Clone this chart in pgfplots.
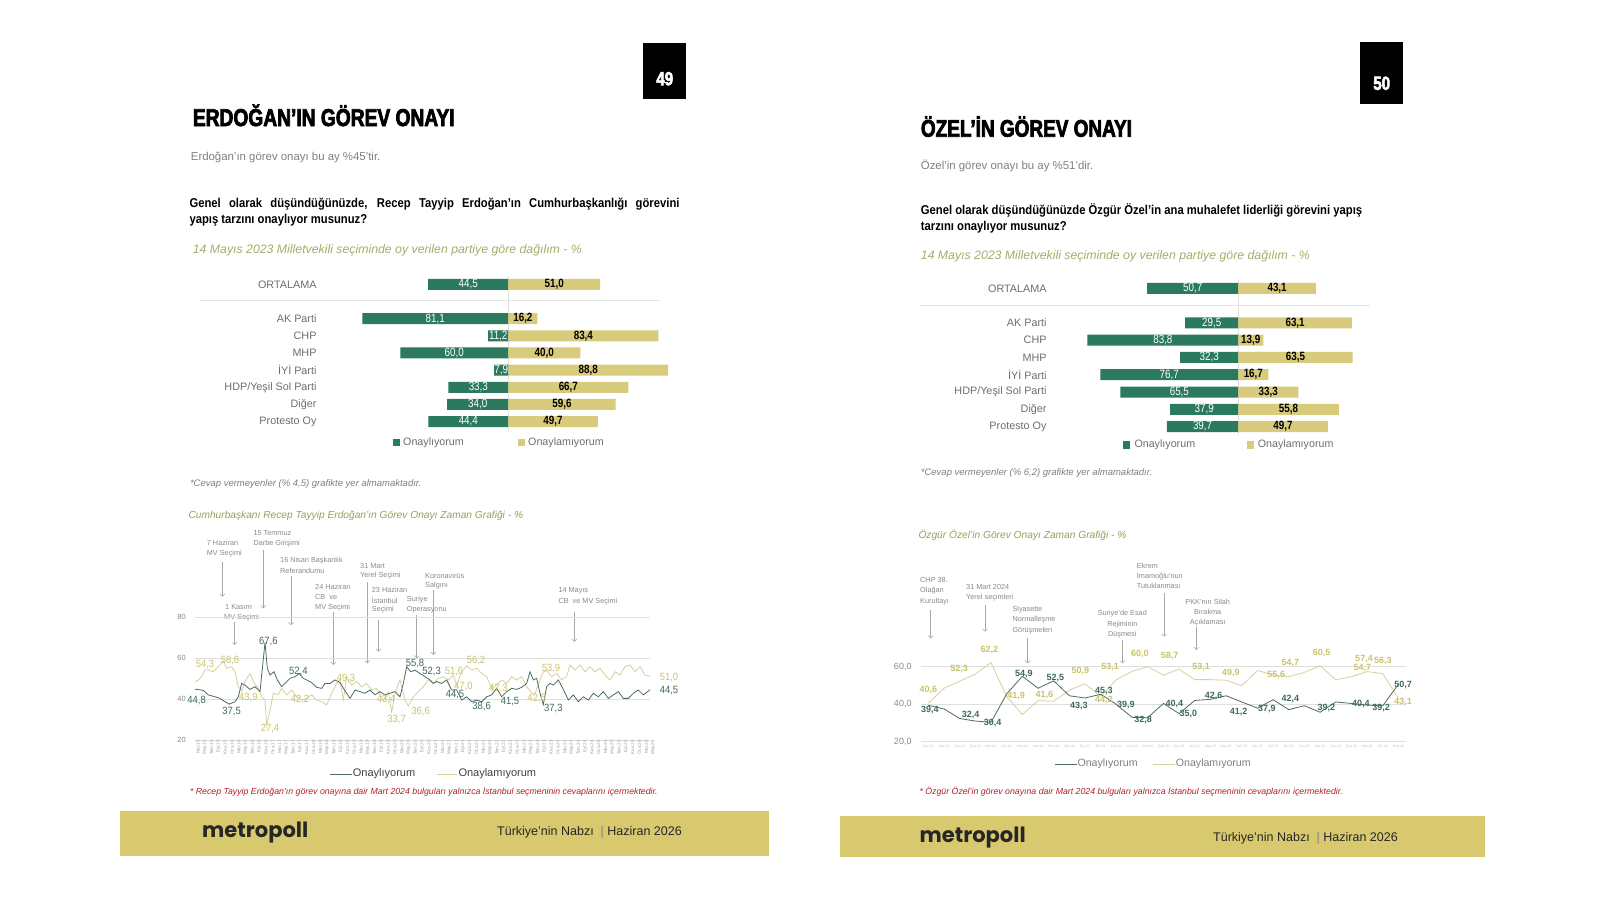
\documentclass[border=0pt]{standalone}
\usepackage{pgfplots}
\pgfplotsset{compat=1.18}
\usepackage{pgfplotstable}
\usepackage{fontspec}
\usetikzlibrary{arrows.meta}
\setmainfont{Liberation Sans}
\newfontfamily\titlefont[FakeStretch=0.79,FakeBold=3]{Liberation Sans}
\newfontfamily\condfont[FakeStretch=0.82]{Liberation Sans}
\newfontfamily\qfont[FakeStretch=0.88]{Liberation Sans}
\newfontfamily\labfont[FakeStretch=0.9]{Liberation Sans}
\newfontfamily\logofont{Poppins}
\newcommand{\fs}[1]{\fontsize{#1}{#1}\selectfont}

\definecolor{barG}{HTML}{2B7A5F}
\definecolor{barY}{HTML}{D8CB7B}
\definecolor{band}{HTML}{D8C96F}
\definecolor{olive}{HTML}{A5AD6B}
\definecolor{olive2}{HTML}{95A257}
\definecolor{lineG}{HTML}{4D6B63}
\definecolor{lineY}{HTML}{D6D19C}
\definecolor{labG}{HTML}{3E6A5D}
\definecolor{labY}{HTML}{C8C46A}
\definecolor{catgray}{HTML}{6E6E6E}
\definecolor{subgray}{HTML}{808080}
\definecolor{anncol}{HTML}{8A8A8A}
\definecolor{redn}{HTML}{B0202E}

\newcommand{\annL}[3]{\node[anchor=west,inner sep=0pt,font=\fs{7.3},text=anncol] at (#1,-#2) {#3};}
\newcommand{\annC}[3]{\node[anchor=center,inner sep=0pt,font=\fs{7.3},text=anncol] at (#1,-#2) {#3};}
\newcommand{\arr}[3]{\draw[draw=gray!70,line width=0.5pt,-{Straight Barb[length=2.5pt,width=5pt]}] (#1,-#2) -- (#1,-#3);}

\pgfplotstableread{
row ok no
0 44.5 51.0
2 81.1 16.2
3 11.2 83.4
4 60.0 40.0
5 7.9 88.8
6 33.3 66.7
7 34.0 59.6
8 44.4 49.7
}\erdbar

\pgfplotstableread{
row ok no
0 50.7 43.1
2 29.5 63.1
3 83.8 13.9
4 32.3 63.5
5 76.7 16.7
6 65.5 33.3
7 37.9 55.8
8 39.7 49.7
}\ozbar

\pgfplotstableread{
x v
75 44.8
90 44.5
100 44.2
115 42.0
135 41.1
150 40.3
165 38.7
178 37.5
195 38.7
205 41.1
215 47.6
225 46.8
240 44.7
255 46.0
270 43.6
285 67.6
292 55.0
300 51.7
312 53.3
322 49.3
335 46.0
345 47.6
360 50.1
375 50.9
388 52.4
400 50.1
410 49.3
425 48.0
440 45.7
455 45.2
465 47.6
480 47.6
495 49.3
510 48.0
525 44.0
540 40.3
555 44.4
570 43.6
585 42.8
600 44.4
615 42.0
630 43.6
645 42.0
660 42.8
675 43.6
690 41.1
700 47.6
710 55.8
722 53.3
735 54.1
750 52.5
765 50.9
780 49.3
790 47.6
800 48.5
815 47.6
830 49.3
845 44.4
860 44.5
875 39.5
890 41.1
905 38.7
920 39.5
935 38.6
950 41.1
965 42.0
980 45.2
995 41.1
1010 43.6
1025 45.2
1040 44.7
1055 45.7
1070 47.6
1080 53.3
1090 49.3
1100 50.1
1110 42.8
1120 37.3
1130 46.0
1140 47.6
1150 46.8
1165 49.3
1180 44.7
1195 39.5
1210 42.0
1225 38.7
1240 41.1
1255 39.5
1270 42.8
1285 41.1
1300 43.6
1315 40.3
1330 42.0
1345 43.6
1360 40.3
1375 40.3
1390 42.8
1405 44.4
1420 42.0
1440 44.5
}\erdok

\pgfplotstableread{
x v
75 48.5
85 49.3
95 50.9
105 54.3
115 54.1
130 53.3
145 55.8
160 58.6
170 55.0
185 55.8
195 53.3
205 46.0
215 43.9
225 48.5
240 52.5
250 48.5
265 45.2
275 41.1
285 39.5
290 27.4
300 34.6
310 42.8
325 42.2
335 45.2
350 42.0
365 44.4
380 41.1
395 39.5
410 40.3
425 42.0
440 39.5
455 38.7
470 37.1
485 42.8
500 47.6
510 49.3
520 39.5
530 50.9
545 46.8
560 48.5
575 46.0
590 47.6
605 44.4
620 45.2
640 39.5
655 43.4
665 33.7
675 42.8
690 49.3
705 39.5
715 36.6
730 41.1
745 43.6
760 46.0
775 49.3
790 47.6
805 50.1
820 50.9
835 49.3
850 51.6
860 46.8
875 53.3
890 56.2
905 54.1
920 55.0
935 52.5
950 50.9
965 45.2
980 47.0
995 49.3
1010 47.6
1025 50.9
1040 49.3
1055 50.9
1070 46.0
1085 42.8
1095 42.6
1110 49.3
1120 53.3
1130 53.9
1145 50.9
1160 52.5
1175 49.3
1190 50.9
1200 56.6
1215 54.1
1230 56.6
1245 53.3
1260 55.8
1275 53.3
1290 55.0
1305 51.7
1320 49.3
1335 53.3
1350 51.7
1365 55.8
1380 56.6
1395 53.3
1410 55.8
1425 51.7
1440 51.0
}\erdno

\pgfplotstableread{
i v
0 39.4
1 37.5
2 32.4
3 31.0
4 30.4
5 45.5
6 54.9
7 48.5
8 52.5
9 44.5
10 43.3
11 45.3
12 39.9
13 33.0
14 32.8
15 40.4
16 35.0
17 42.0
18 42.6
19 44.5
20 41.2
21 37.9
22 42.4
23 37.1
24 39.2
25 35.7
26 41.2
27 40.4
28 39.5
29 39.2
30 50.7
}\ozok

\pgfplotstableread{
i v
0 40.6
1 48.5
2 52.3
3 56.0
4 62.2
5 44.0
6 34.5
7 41.9
8 41.6
9 47.5
10 50.9
11 44.2
12 53.1
13 57.5
14 60.0
15 55.5
16 58.7
17 53.1
18 53.1
19 52.8
20 49.9
21 58.0
22 55.6
23 54.7
24 57.0
25 60.5
26 53.0
27 54.7
28 57.4
29 56.3
30 43.1
}\ozno

\begin{document}
\begin{tikzpicture}[x=1pt,y=1pt]
\useasboundingbox (0,0) rectangle (1600,-900);
\fill[white] (0,0) rectangle (1600,-900);

% ================= LEFT PAGE =================
\fill[black] (643.3,-43.3) rectangle (686,-99);
\node[text=white,font=\titlefont\bfseries\fs{19}] at (664.7,-78.7) {49};
\node[anchor=base west,inner sep=0pt,font=\titlefont\bfseries\fs{24.3}] at (192.7,-126) {ERDOĞAN’IN GÖREV ONAYI};
\node[anchor=west,inner sep=0pt,font=\fs{11.4},text=subgray] at (190.7,-157.7) {Erdoğan’ın görev onayı bu ay \%45’tir.};
\node[anchor=base west,inner sep=0pt,font=\qfont\bfseries\fs{12.8}] at (189.3,-207.9) {\makebox[490pt][s]{Genel olarak düşündüğünüzde, Recep Tayyip Erdoğan’ın Cumhurbaşkanlığı görevini}};
\node[anchor=base west,inner sep=0pt,font=\qfont\bfseries\fs{12.8}] at (189.3,-223.6) {yapış tarzını onaylıyor musunuz?};
\node[anchor=west,inner sep=0pt,font=\itshape\fs{12.3},text=olive] at (192.7,-250) {14 Mayıs 2023 Milletvekili seçiminde oy verilen partiye göre dağılım - \%};

\draw[gray!20,line width=0.8pt] (200,-300.7) -- (660,-300.7);

\begin{axis}[at={(328.3pt,-430.2pt)},anchor=south west,scale only axis,width=360pt,height=154.5pt,
  xmin=-100,xmax=100,ymin=-0.5,ymax=8.5,y dir=reverse,clip=false,
  axis line style={draw=none},xtick=\empty,major tick length=0pt,
  ytick={0,2,3,4,5,6,7,8},
  yticklabels={ORTALAMA,AK Parti,CHP,MHP,İYİ Parti,HDP/Yeşil Sol Parti,Diğer,Protesto Oy},
  yticklabel style={font=\fs{10.8},text=catgray,inner sep=0pt,xshift=-11.6pt},
  extra x ticks={0},extra x tick labels={},
  extra x tick style={grid=major,major grid style={draw=gray!25,line width=0.7pt}},
  /pgf/number format/assume math mode=true]
\addplot[xbar,bar width=11pt,bar shift=0pt,fill=barG,draw=none] table[x expr=-\thisrow{ok},y=row]{\erdbar};
\addplot[xbar,bar width=11pt,bar shift=0pt,fill=barY,draw=none] table[x=no,y=row]{\erdbar};
\addplot[draw=none,forget plot,point meta=\thisrow{ok},
  nodes near coords={\pgfmathprintnumber[fixed,fixed zerofill,precision=1,use comma]{\pgfplotspointmeta}},
  every node near coord/.style={anchor=center,inner sep=0pt,font=\condfont\fs{12},text=white}]
  table[x expr=-\thisrow{ok}/2,y=row]{\erdbar};
\addplot[draw=none,forget plot,point meta=\thisrow{no},
  nodes near coords={\pgfmathprintnumber[fixed,fixed zerofill,precision=1,use comma]{\pgfplotspointmeta}},
  every node near coord/.style={anchor=center,inner sep=0pt,font=\condfont\bfseries\fs{12},text=black}]
  table[x expr=\thisrow{no}/2,y=row]{\erdbar};
\end{axis}

\fill[barG] (392.7,-439) rectangle (400,-446.3);
\node[anchor=west,inner sep=0pt,font=\fs{10.7},text=catgray] at (403,-442.7) {Onaylıyorum};
\fill[barY] (517.7,-439) rectangle (525,-446.3);
\node[anchor=west,inner sep=0pt,font=\fs{10.7},text=catgray] at (528,-442.7) {Onaylamıyorum};

\node[anchor=west,inner sep=0pt,font=\itshape\fs{9.5},text=subgray] at (189.8,-483.7) {*Cevap vermeyenler (\% 4,5) grafikte yer almamaktadır.};
\node[anchor=west,inner sep=0pt,font=\itshape\fs{10.2},text=olive2] at (188.3,-515.7) {Cumhurbaşkanı Recep Tayyip Erdoğan’ın Görev Onayı Zaman Grafiği - \%};

% annotations left
\annL{206.7}{543.3}{7 Haziran}\annL{206.7}{553.3}{MV Seçimi}\arr{222.3}{561.7}{596.7}
\annL{253.3}{533.3}{15 Temmuz}\annL{253.3}{543.3}{Darbe Girişimi}\arr{263.3}{550}{608.3}
\annL{280}{561}{16 Nisan Başkanlık}\annL{280}{571}{Referandumu}\arr{291}{576}{625}
\annL{225}{607.3}{1 Kasım}\annL{224}{617.3}{MV Seçimi}\arr{234.3}{621.7}{645}
\annL{315}{587.3}{24 Haziran}\annL{315}{597.3}{CB\ \ ve}\annL{315}{607.3}{MV Seçimi}\arr{333.3}{611.7}{665}
\annL{360}{565.7}{31 Mart}\annL{360}{576}{Yerel Seçimi}\arr{367.3}{581.7}{663.3}
\annL{371.7}{590}{23 Haziran}\annL{371.7}{600}{İstanbul}\annL{371.7}{610}{Seçimi}\arr{378.3}{620}{651.7}
\annL{406.7}{600}{Suriye}\annL{406.7}{610}{Operasyonu}\arr{416.7}{615}{658.3}
\annL{425}{576}{Koronavirüs}\annL{425}{586}{Salgını}\arr{433.3}{590}{655}
\annL{558.3}{591}{14 Mayıs}\annL{558.3}{601.7}{CB\ \ ve MV Seçimi}\arr{574.3}{611.7}{641.7}

\begin{axis}[at={(195pt,-740pt)},anchor=south west,scale only axis,width=455pt,height=123pt,
  xmin=75,xmax=1440,ymin=20,ymax=80,clip=false,
  axis line style={draw=none},major tick length=0pt,
  ytick={20,40,60,80},ymajorgrids,major grid style={draw=gray!25,line width=0.7pt},
  yticklabel style={font=\fs{7.5},text=anncol,inner sep=0pt,xshift=-9pt},
  xtick={75,95.3731,...,1441},
  xticklabels={Mar.15,May.15,Tem.15,Eyl.15,Kas.15,
    Oca.16,Mar.16,May.16,Tem.16,Eyl.16,Kas.16,
    Oca.17,Mar.17,May.17,Tem.17,Eyl.17,Kas.17,
    Oca.18,Mar.18,May.18,Tem.18,Eyl.18,Kas.18,
    Oca.19,Mar.19,May.19,Tem.19,Eyl.19,Kas.19,
    Oca.20,Mar.20,May.20,Tem.20,Eyl.20,Kas.20,
    Oca.21,Mar.21,May.21,Tem.21,Eyl.21,Kas.21,
    Oca.22,Mar.22,May.22,Tem.22,Eyl.22,Kas.22,
    Oca.23,Mar.23,May.23,Tem.23,Eyl.23,Kas.23,
    Oca.24,Mar.24,May.24,Tem.24,Eyl.24,Kas.24,
    Oca.25,Mar.25,May.25,Tem.25,Eyl.25,Kas.25,
    Oca.26,Mar.26,May.26},
  xticklabel style={font=\fs{4.5},text=gray!75,rotate=90,anchor=east,inner sep=0pt,yshift=-3pt},
  /pgf/number format/assume math mode=true]
\addplot[lineY,line width=0.8pt] table[x=x,y=v]{\erdno};
\addplot[lineG,line width=0.8pt] table[x=x,y=v]{\erdok};
\begin{scope}[every node/.style={inner sep=0pt,font=\labfont\fs{10.5}}]
\node[text=labG] at (axis cs:80,39.5) {44,8};
\node[text=labG] at (axis cs:185,33.8) {37,5};
\node[text=labG] at (axis cs:295,68.0) {67,6};
\node[text=labG] at (axis cs:385,53.3) {52,4};
\node[text=labG] at (axis cs:735,57.1) {55,8};
\node[text=labG] at (axis cs:785,53.3) {52,3};
\node[text=labG] at (axis cs:855,42.4) {44,5};
\node[text=labG] at (axis cs:935,36.3) {38,6};
\node[text=labG] at (axis cs:1020,38.7) {41,5};
\node[text=labG] at (axis cs:1150,35.4) {37,3};
\node[text=labG] at (axis cs:1497,43.9) {44,5};
\node[text=labY] at (axis cs:105,56.9) {54,3};
\node[text=labY] at (axis cs:180,59.0) {58,6};
\node[text=labY] at (axis cs:235,40.8) {43,9};
\node[text=labY] at (axis cs:300,25.7) {27,4};
\node[text=labY] at (axis cs:390,39.8) {42,2};
\node[text=labY] at (axis cs:528,49.8) {49,3};
\node[text=labY] at (axis cs:648,39.8) {43,4};
\node[text=labY] at (axis cs:680,30.1) {33,7};
\node[text=labY] at (axis cs:752,33.8) {36,6};
\node[text=labY] at (axis cs:852,53.3) {51,6};
\node[text=labY] at (axis cs:918,58.7) {56,2};
\node[text=labY] at (axis cs:880,46.0) {47,0};
\node[text=labY] at (axis cs:985,45.2) {47,3};
\node[text=labY] at (axis cs:1100,40.3) {42,6};
\node[text=labY] at (axis cs:1143,55.0) {53,9};
\node[text=labY] at (axis cs:1497,50.6) {51,0};
\end{scope}
\end{axis}

\draw[lineG,line width=0.8pt] (330,-774) -- (352,-774);
\node[anchor=west,inner sep=0pt,font=\fs{11},text=black!75] at (352.7,-774) {Onaylıyorum};
\draw[lineY,line width=0.8pt] (436.7,-774) -- (456.7,-774);
\node[anchor=west,inner sep=0pt,font=\fs{11},text=black!75] at (458.3,-774) {Onaylamıyorum};

\node[anchor=west,inner sep=0pt,font=\itshape\fs{8.75},text=redn] at (189.8,-791.8) {* Recep Tayyip Erdoğan’ın görev onayına dair Mart 2024 bulguları yalnızca İstanbul seçmeninin cevaplarını içermektedir.};

\fill[band] (120.4,-811.2) rectangle (769.4,-856.1);
\node[anchor=west,inner sep=0pt,font=\logofont\bfseries\fs{21},text=black!85] at (202,-832.7) {metropoll};
\node[anchor=west,inner sep=0pt,font=\fs{12.5},text=black!85] at (497,-832.7) {Türkiye’nin Nabzı \ {\color{black!50}|}\ Haziran 2026};

% ================= RIGHT PAGE =================
\fill[black] (1360,-41.7) rectangle (1403,-104);
\node[text=white,font=\titlefont\bfseries\fs{19}] at (1381.7,-83.3) {50};
\node[anchor=base west,inner sep=0pt,font=\titlefont\bfseries\fs{24}] at (920.7,-136.7) {ÖZEL’İN GÖREV ONAYI};
\node[anchor=west,inner sep=0pt,font=\fs{11.4},text=subgray] at (920.7,-166) {Özel’in görev onayı bu ay \%51’dir.};
\node[anchor=base west,inner sep=0pt,font=\qfont\bfseries\fs{12.8}] at (920.7,-214.6) {Genel olarak düşündüğünüzde Özgür Özel’in ana muhalefet liderliği görevini yapış};
\node[anchor=base west,inner sep=0pt,font=\qfont\bfseries\fs{12.8}] at (920.7,-230.3) {tarzını onaylıyor musunuz?};
\node[anchor=west,inner sep=0pt,font=\itshape\fs{12.3},text=olive] at (920.7,-256) {14 Mayıs 2023 Milletvekili seçiminde oy verilen partiye göre dağılım - \%};

\draw[gray!20,line width=0.8pt] (920,-305.7) -- (1370,-305.7);

\begin{axis}[at={(1058.3pt,-435.2pt)},anchor=south west,scale only axis,width=360pt,height=155.5pt,
  xmin=-100,xmax=100,ymin=-0.5,ymax=8.5,y dir=reverse,clip=false,
  axis line style={draw=none},xtick=\empty,major tick length=0pt,
  ytick={0,2,3,4,5,6,7,8},
  yticklabels={ORTALAMA,AK Parti,CHP,MHP,İYİ Parti,HDP/Yeşil Sol Parti,Diğer,Protesto Oy},
  yticklabel style={font=\fs{10.8},text=catgray,inner sep=0pt,xshift=-11.6pt},
  extra x ticks={0},extra x tick labels={},
  extra x tick style={grid=major,major grid style={draw=gray!25,line width=0.7pt}},
  /pgf/number format/assume math mode=true]
\addplot[xbar,bar width=11pt,bar shift=0pt,fill=barG,draw=none] table[x expr=-\thisrow{ok},y=row]{\ozbar};
\addplot[xbar,bar width=11pt,bar shift=0pt,fill=barY,draw=none] table[x=no,y=row]{\ozbar};
\addplot[draw=none,forget plot,point meta=\thisrow{ok},
  nodes near coords={\pgfmathprintnumber[fixed,fixed zerofill,precision=1,use comma]{\pgfplotspointmeta}},
  every node near coord/.style={anchor=center,inner sep=0pt,font=\condfont\fs{12},text=white}]
  table[x expr=-\thisrow{ok}/2,y=row]{\ozbar};
\addplot[draw=none,forget plot,point meta=\thisrow{no},
  nodes near coords={\pgfmathprintnumber[fixed,fixed zerofill,precision=1,use comma]{\pgfplotspointmeta}},
  every node near coord/.style={anchor=center,inner sep=0pt,font=\condfont\bfseries\fs{12},text=black}]
  table[x expr=\thisrow{no}/2,y=row]{\ozbar};
\end{axis}

\fill[barG] (1123.3,-441.3) rectangle (1130,-448.6);
\node[anchor=west,inner sep=0pt,font=\fs{10.7},text=catgray] at (1134.3,-445) {Onaylıyorum};
\fill[barY] (1247.3,-441.3) rectangle (1254.3,-448.6);
\node[anchor=west,inner sep=0pt,font=\fs{10.7},text=catgray] at (1257.7,-445) {Onaylamıyorum};

\node[anchor=west,inner sep=0pt,font=\itshape\fs{9.5},text=subgray] at (920.7,-472.7) {*Cevap vermeyenler (\% 6,2) grafikte yer almamaktadır.};
\node[anchor=west,inner sep=0pt,font=\itshape\fs{10.2},text=olive2] at (918.3,-535) {Özgür Özel’in Görev Onayı Zaman Grafiği - \%};

% annotations right
\annL{920}{580}{CHP 38.}\annL{920}{591}{Olağan}\annL{920}{601.7}{Kurultayı}\arr{930.7}{610}{638.3}
\annL{966}{587.3}{31 Mart 2024}\annL{966}{597.3}{Yerel seçimleri}\arr{985}{605}{631.7}
\annL{1012.3}{610}{Siyasette}\annL{1012.3}{620}{Normalleşme}\annL{1012.3}{630.7}{Görüşmeleri}\arr{1027.7}{638.3}{663.3}
\annC{1122.3}{614}{Suriye’de Esad}\annC{1122.3}{624.3}{Rejiminin}\annC{1122.3}{634.3}{Düşmesi}\arr{1122.3}{640}{663.3}
\annL{1136.7}{566}{Ekrem}\annL{1136.7}{576}{İmamoğlu’nun}\annL{1136.7}{586}{Tutuklanması}\arr{1164}{593.3}{636.7}
\annC{1207.7}{602.3}{PKK’nın Silah}\annC{1207.7}{612.3}{Bırakma}\annC{1207.7}{622.3}{Açıklaması}\arr{1196.7}{627.3}{650}

\begin{axis}[at={(920.5pt,-741.7pt)},anchor=south west,scale only axis,width=485.8pt,height=75pt,
  xmin=-0.5,xmax=30.5,ymin=20,ymax=60,clip=false,
  axis line style={draw=none},major tick length=0pt,
  ytick={20,40,60},ymajorgrids,major grid style={draw=gray!25,line width=0.7pt},
  yticklabel={\pgfmathprintnumber[fixed,fixed zerofill,precision=1,use comma]{\tick}},
  yticklabel style={font=\fs{9},text=anncol,inner sep=0pt,xshift=-8.8pt},
  xtick={0,...,30},
  xticklabels={Kas.23,Ara.23,Oca.24,Şub.24,Mar.24,Nis.24,May.24,Haz.24,Tem.24,Ağu.24,Eyl.24,Eki.24,
    Kas.24,Ara.24,Oca.25,Şub.25,Mar.25,Nis.25,May.25,Haz.25,Tem.25,Ağu.25,Eyl.25,Eki.25,
    Kas.25,Ara.25,Oca.26,Şub.26,Mar.26,Nis.26,May.26},
  xticklabel style={font=\fs{3.5},text=gray!45,inner sep=0pt,yshift=-3pt},
  /pgf/number format/assume math mode=true]
\addplot[lineY,line width=0.8pt] table[x=i,y=v]{\ozno};
\addplot[lineG,line width=0.8pt] table[x=i,y=v]{\ozok};
\begin{scope}[every node/.style={inner sep=0pt,font=\bfseries\fs{9}}]
\node[text=labG] at (axis cs:0.1,36.8) {39,4};
\node[text=labG] at (axis cs:2.7,34.1) {32,4};
\node[text=labG] at (axis cs:4.1,29.7) {30,4};
\node[text=labG] at (axis cs:6.1,56.0) {54,9};
\node[text=labG] at (axis cs:8.1,53.7) {52,5};
\node[text=labG] at (axis cs:9.6,39.1) {43,3};
\node[text=labG] at (axis cs:11.2,46.9) {45,3};
\node[text=labG] at (axis cs:12.6,39.5) {39,9};
\node[text=labG] at (axis cs:13.7,31.8) {32,8};
\node[text=labG] at (axis cs:15.7,40.0) {40,4};
\node[text=labG] at (axis cs:16.6,34.5) {35,0};
\node[text=labG] at (axis cs:18.2,44.3) {42,6};
\node[text=labG] at (axis cs:19.8,35.6) {41,2};
\node[text=labG] at (axis cs:21.6,37.2) {37,9};
\node[text=labG] at (axis cs:23.1,43.0) {42,4};
\node[text=labG] at (axis cs:25.4,38.0) {39,2};
\node[text=labG] at (axis cs:27.6,40.0) {40,4};
\node[text=labG] at (axis cs:28.9,38.2) {39,2};
\node[text=labG] at (axis cs:30.3,50.3) {50,7};
\node[text=labY] at (axis cs:0,47.5) {40,6};
\node[text=labY] at (axis cs:1.96,59.0) {52,3};
\node[text=labY] at (axis cs:3.9,68.8) {62,2};
\node[text=labY] at (axis cs:5.6,44.3) {41,9};
\node[text=labY] at (axis cs:7.4,44.8) {41,6};
\node[text=labY] at (axis cs:9.7,57.8) {50,9};
\node[text=labY] at (axis cs:11.2,42.1) {44,2};
\node[text=labY] at (axis cs:11.6,59.9) {53,1};
\node[text=labY] at (axis cs:13.5,66.7) {60,0};
\node[text=labY] at (axis cs:15.4,65.8) {58,7};
\node[text=labY] at (axis cs:17.4,59.9) {53,1};
\node[text=labY] at (axis cs:19.3,56.4) {49,9};
\node[text=labY] at (axis cs:22.2,55.8) {55,6};
\node[text=labY] at (axis cs:23.1,61.7) {54,7};
\node[text=labY] at (axis cs:25.1,67.4) {60,5};
\node[text=labY] at (axis cs:27.7,59.4) {54,7};
\node[text=labY] at (axis cs:27.8,63.8) {57,4};
\node[text=labY] at (axis cs:29.0,63.1) {56,3};
\node[text=labY] at (axis cs:30.3,41.1) {43,1};
\end{scope}
\end{axis}

\draw[lineG,line width=0.8pt] (1055,-764) -- (1076.7,-764);
\node[anchor=west,inner sep=0pt,font=\fs{10.6},text=subgray] at (1077.3,-764) {Onaylıyorum};
\draw[lineY,line width=0.8pt] (1153.3,-764) -- (1175,-764);
\node[anchor=west,inner sep=0pt,font=\fs{10.6},text=subgray] at (1175.7,-764) {Onaylamıyorum};

\node[anchor=west,inner sep=0pt,font=\itshape\fs{8.75},text=redn] at (919.4,-791.8) {* Özgür Özel’in görev onayına dair Mart 2024 bulguları yalnızca İstanbul seçmeninin cevaplarını içermektedir.};

\fill[band] (839.8,-816.3) rectangle (1484.7,-857);
\node[anchor=west,inner sep=0pt,font=\logofont\bfseries\fs{21},text=black!85] at (919.4,-837.8) {metropoll};
\node[anchor=west,inner sep=0pt,font=\fs{12.5},text=black!85] at (1213,-837.8) {Türkiye’nin Nabzı \ {\color{black!50}|}\ Haziran 2026};
\end{tikzpicture}
\end{document}
